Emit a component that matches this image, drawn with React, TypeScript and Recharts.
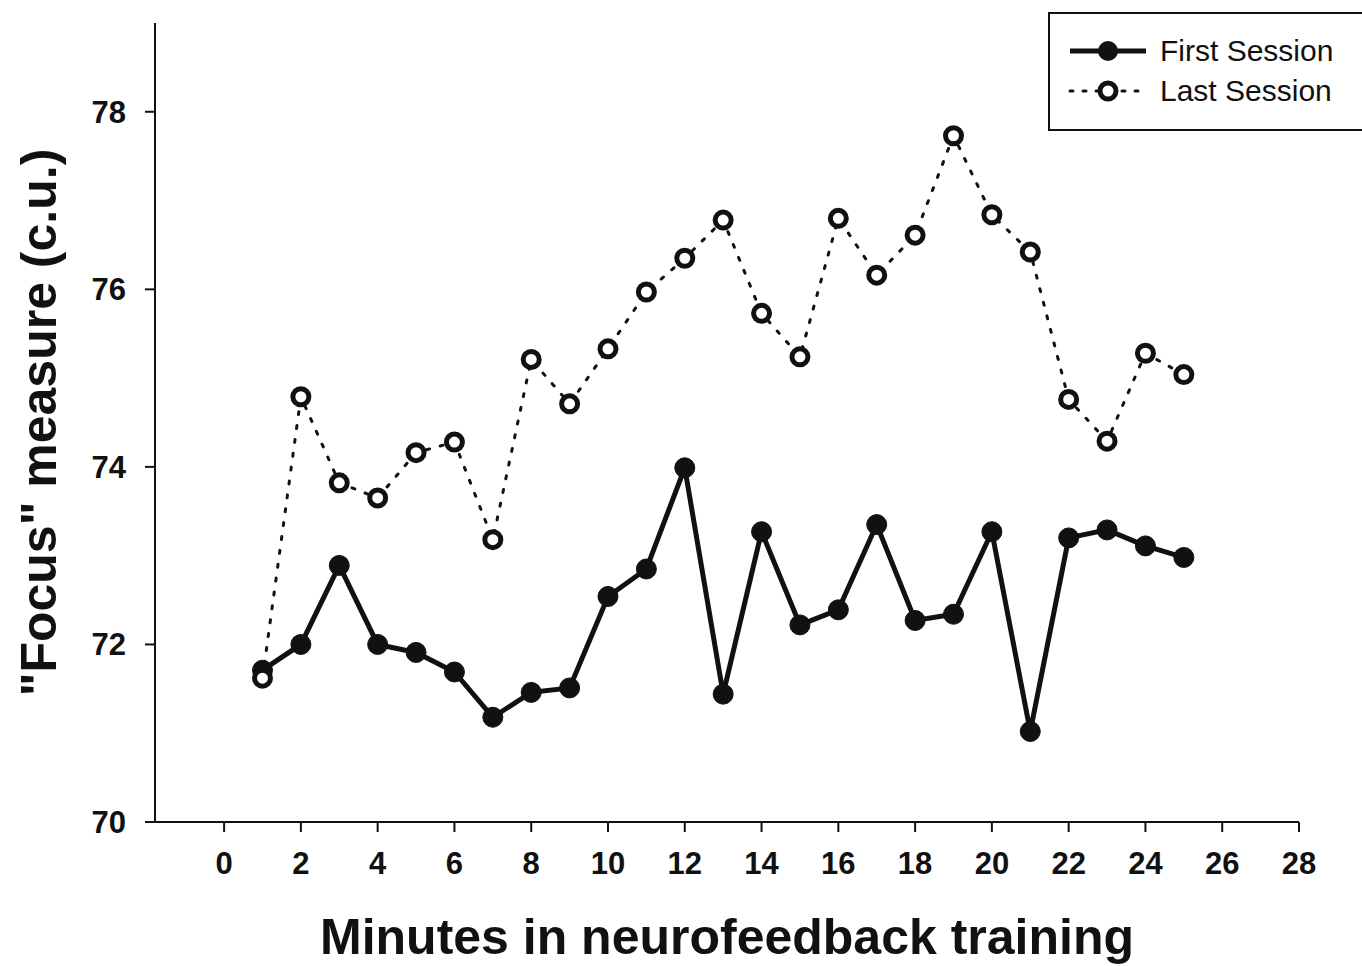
import React from "react";
import { LineChart, Line, XAxis, YAxis, Label } from "recharts";

const MINUTES = [
  1, 2, 3, 4, 5, 6, 7, 8, 9, 10, 11, 12, 13, 14, 15, 16, 17, 18, 19, 20, 21,
  22, 23, 24, 25,
];
const FIRST_SESSION = [
  71.71, 72.0, 72.89, 72.0, 71.91, 71.69, 71.18, 71.46, 71.51, 72.54, 72.85,
  73.99, 71.44, 73.27, 72.22, 72.39, 73.35, 72.27, 72.34, 73.27, 71.02, 73.2,
  73.29, 73.11, 72.98,
];
const LAST_SESSION = [
  71.62, 74.79, 73.82, 73.65, 74.16, 74.28, 73.18, 75.21, 74.71, 75.33, 75.97,
  76.35, 76.78, 75.73, 75.24, 76.8, 76.16, 76.61, 77.73, 76.84, 76.42, 74.76,
  74.29, 75.28, 75.04,
];
const X_TICKS = [0, 2, 4, 6, 8, 10, 12, 14, 16, 18, 20, 22, 24, 26, 28];
const Y_TICKS = [70, 72, 74, 76, 78];

const data = MINUTES.map((m, i) => ({
  minute: m,
  first: FIRST_SESSION[i],
  last: LAST_SESSION[i],
}));

const tickFont = {
  fill: "#111",
  fontSize: 31,
  fontWeight: 700,
  fontFamily: "'Liberation Sans', Arial, sans-serif",
};

const labelFont = {
  fill: "#111",
  fontSize: 50,
  fontWeight: 700,
  fontFamily: "'Liberation Sans', Arial, sans-serif",
};

function LegendBox() {
  const row = { display: "flex", alignItems: "center", height: 40 };
  const text = {
    fontFamily: "'Liberation Sans', Arial, sans-serif",
    fontSize: 30,
    color: "#111",
    marginLeft: 12,
  };
  return (
    <div
      style={{
        position: "absolute",
        left: 1048,
        top: 12,
        border: "2px solid #111",
        background: "#fff",
        width: 330,
        height: 119,
        boxSizing: "border-box",
        padding: "17px 0 0 18px",
      }}
    >
      <div style={row}>
        <svg width={80} height={24}>
          <line x1={2} y1={12} x2={78} y2={12} stroke="#111" strokeWidth={5} />
          <circle cx={40} cy={12} r={10} fill="#111" />
        </svg>
        <span style={text}>First Session</span>
      </div>
      <div style={row}>
        <svg width={80} height={24}>
          <line
            x1={2}
            y1={12}
            x2={78}
            y2={12}
            stroke="#111"
            strokeWidth={3}
            strokeDasharray="3 10"
            strokeLinecap="round"
          />
          <circle cx={40} cy={12} r={8} fill="#fff" stroke="#111" strokeWidth={5} />
        </svg>
        <span style={text}>Last Session</span>
      </div>
    </div>
  );
}

export default function App() {
  return (
    <div
      style={{
        position: "absolute",
        left: 0,
        top: 0,
        width: 1362,
        height: 966,
        overflow: "hidden",
        background: "#fff",
      }}
    >
      <LineChart
        width={1362}
        height={966}
        data={data}
        margin={{ top: 23, right: 63, bottom: 84, left: 95 }}
      >
        <XAxis
          dataKey="minute"
          type="number"
          domain={[-1.8, 28]}
          ticks={X_TICKS}
          allowDataOverflow
          height={60}
          axisLine={{ stroke: "#111", strokeWidth: 2 }}
          tickLine={{ stroke: "#111", strokeWidth: 2 }}
          tickSize={10}
          tick={tickFont}
          tickMargin={20}
        >
          <Label
            value="Minutes in neurofeedback training"
            position="bottom"
            offset={36}
            style={labelFont}
          />
        </XAxis>
        <YAxis
          type="number"
          domain={[70, 79]}
          ticks={Y_TICKS}
          allowDataOverflow
          width={60}
          axisLine={{ stroke: "#111", strokeWidth: 2 }}
          tickLine={{ stroke: "#111", strokeWidth: 2 }}
          tickSize={10}
          tick={tickFont}
          tickMargin={19}
        >
          <Label
            value={'"Focus" measure (c.u.)'}
            angle={-90}
            position="left"
            offset={57}
            style={{ ...labelFont, textAnchor: "middle" }}
          />
        </YAxis>
        <Line
          dataKey="first"
          stroke="#111"
          strokeWidth={5}
          dot={{ r: 10, fill: "#111", stroke: "#111", strokeWidth: 1 }}
          activeDot={false}
          isAnimationActive={false}
        />
        <Line
          dataKey="last"
          stroke="#111"
          strokeWidth={3}
          strokeDasharray="3 11"
          strokeLinecap="round"
          dot={{ r: 8, fill: "#fff", stroke: "#111", strokeWidth: 5, strokeDasharray: "0" }}
          activeDot={false}
          isAnimationActive={false}
        />
      </LineChart>
      <LegendBox />
    </div>
  );
}
